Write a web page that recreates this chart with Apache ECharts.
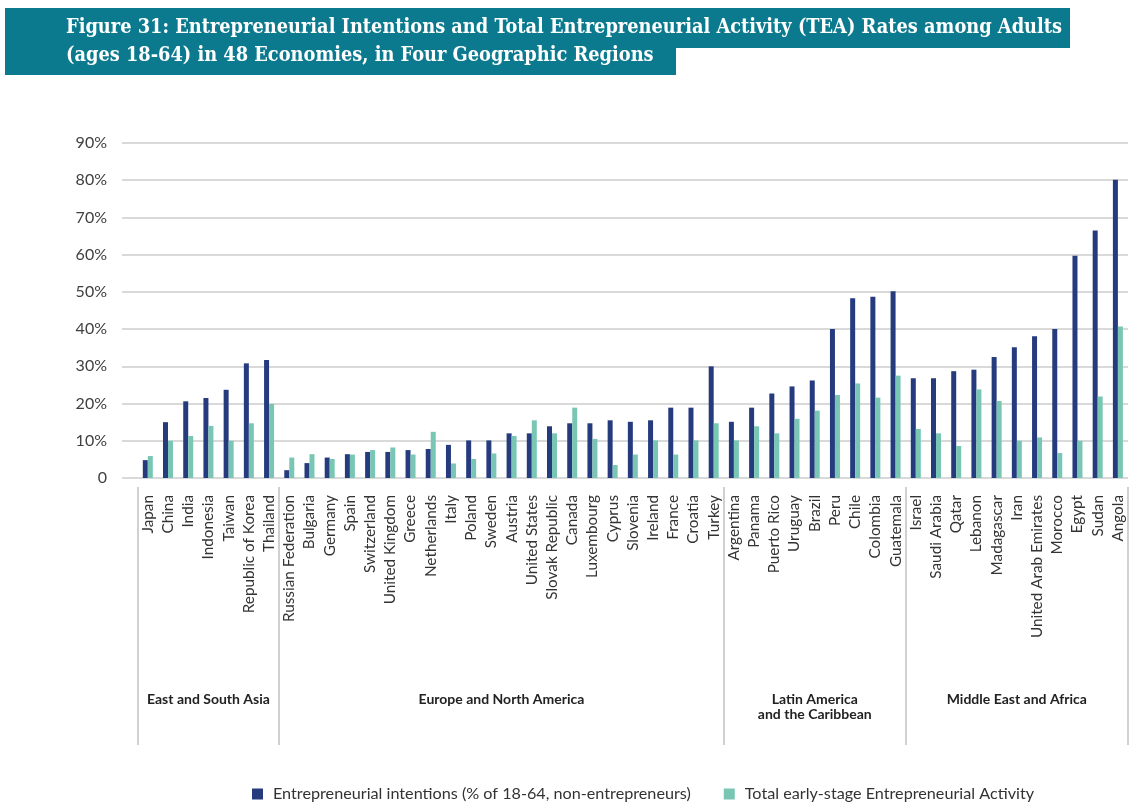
<!DOCTYPE html>
<html>
<head>
<meta charset="utf-8">
<script src="https://cdn.jsdelivr.net/npm/echarts@6/dist/echarts.min.js"></script>
<style>html,body{margin:0;padding:0;background:#fff;}#chart{width:1138px;height:804px;}</style>
</head>
<body>
<div id="chart"></div>
<script>
const categories = ['Japan','China','India','Indonesia','Taiwan','Republic of Korea','Thailand',
  'Russian Federation','Bulgaria','Germany','Spain','Switzerland','United Kingdom','Greece','Netherlands','Italy','Poland','Sweden','Austria','United States','Slovak Republic','Canada','Luxembourg','Cyprus','Slovenia','Ireland','France','Croatia','Turkey',
  'Argentina','Panama','Puerto Rico','Uruguay','Brazil','Peru','Chile','Colombia','Guatemala',
  'Israel','Saudi Arabia','Qatar','Lebanon','Madagascar','Iran','United Arab Emirates','Morocco','Egypt','Sudan','Angola'];
const intentions = [4.8,15.0,20.6,21.5,23.7,30.8,31.7,
  2.1,4.0,5.5,6.4,7.0,7.0,7.5,7.8,8.9,10.1,10.1,12.0,12.0,13.9,14.7,14.7,15.5,15.1,15.5,18.9,18.9,30.0,
  15.1,18.9,22.7,24.6,26.2,40.0,48.3,48.7,50.2,
  26.8,26.8,28.7,29.1,32.5,35.1,38.1,40.0,59.7,66.5,80.1];
const tea = [5.9,10.0,11.3,14.0,10.0,14.7,19.9,
  5.5,6.4,5.1,6.3,7.5,8.2,6.3,12.4,3.9,5.1,6.6,11.3,15.5,12.0,18.9,10.5,3.5,6.3,10.1,6.3,10.1,14.7,
  10.1,13.9,12.0,15.9,18.1,22.3,25.4,21.6,27.5,
  13.2,12.0,8.6,23.8,20.7,10.0,10.9,6.7,10.0,21.9,40.7];
const regions = ['East and South Asia','Europe and North America','Latin America\nand the Caribbean','Middle East and Africa'];
const regionCounts = [7,22,9,11];
const yMax = 90, yStep = 10;
const seriesNames = ['Entrepreneurial intentions (% of 18-64, non-entrepreneurs)','Total early-stage Entrepreneurial Activity'];
const titleLines = ['Figure 31: Entrepreneurial Intentions and Total Entrepreneurial Activity (TEA) Rates among Adults',
  '(ages 18-64) in 48 Economies, in Four Geographic Regions'];

// region boundaries / centres
const bounds = [0];
regionCounts.forEach(c => bounds.push(bounds[bounds.length-1] + c));
const centers = regionCounts.map((c,i) => (bounds[i] + bounds[i+1]) / 2);
const centerLabel = {};
centers.forEach((c,i) => centerLabel[c] = regions[i]);

const NAVY = '#253b7e', TEAL = '#79c6b5', TITLEBG = '#0b7a8e';
const FONT = 'Lato';
const TFONT = 'bold 19.8px "DejaVu Serif Condensed", "DejaVu Serif", serif';

const chart = echarts.init(document.getElementById('chart'));
chart.setOption({
  animation: false,
  textStyle: {fontFamily: FONT},
  graphic: [
    {type:'rect', left:5, top:8, shape:{width:1065, height:40}, style:{fill:TITLEBG}},
    {type:'rect', left:5, top:47, shape:{width:671, height:28}, style:{fill:TITLEBG}},
    {type:'text', left:66, top:18, style:{text:titleLines[0], fill:'#fff', font:TFONT}},
    {type:'text', left:66, top:46, style:{text:titleLines[1], fill:'#fff', font:TFONT}}
  ],
  legend: {
    left: 252, top: 786, padding: 0, itemWidth: 11, itemHeight: 11, itemGap: 33,
    icon: 'rect',
    textStyle: {fontSize: 16.2, color: '#333', fontFamily: FONT, padding: [0, 0, 0, 5]},
    data: seriesNames
  },
  grid: [
    {left: 137.7, right: 10, top: 143, bottom: 326},
    {left: 122, right: 10, top: 143, bottom: 326}
  ],
  xAxis: [
    {type:'category', gridIndex:0, data: categories,
     axisLine:{show:false}, axisTick:{show:false},
     axisLabel:{rotate:90, interval:0, margin:17, fontSize:15.3, color:'#333', fontFamily:FONT}},
    {type:'value', gridIndex:0, position:'bottom', min:0, max:categories.length, offset:9,
     axisLine:{show:false}, splitLine:{show:false},
     axisTick:{show:true, customValues: bounds, length: 258, lineStyle:{color:'#d0d0d0', width:2}},
     axisLabel:{show:true, customValues: centers, margin: 205, fontSize: 14, fontWeight:'bold', color:'#222', fontFamily:FONT, lineHeight:15,
       formatter: v => centerLabel[v] || ''}},
    {type:'category', gridIndex:1, show:false, data: categories}
  ],
  yAxis: [
    {type:'value', gridIndex:0, min:0, max:yMax, interval:yStep, show:false, splitLine:{show:false}},
    {type:'value', gridIndex:1, min:0, max:yMax, interval:yStep,
     axisLine:{show:false}, axisTick:{show:false},
     splitLine:{lineStyle:{color:'#d9d9d9', width:2}},
     axisLabel:{margin:15, fontSize:16, color:'#404040', fontFamily:FONT,
       formatter: v => v === 0 ? '0' : v + '%'}}
  ],
  series: [
    {name: seriesNames[0], type:'bar', xAxisIndex:0, yAxisIndex:0, data: intentions, barWidth:5, barGap:'0%',
     itemStyle:{color:NAVY}},
    {name: seriesNames[1], type:'bar', xAxisIndex:0, yAxisIndex:0, data: tea, barWidth:5, barGap:'0%',
     itemStyle:{color:TEAL}}
  ]
});
</script>
</body>
</html>
